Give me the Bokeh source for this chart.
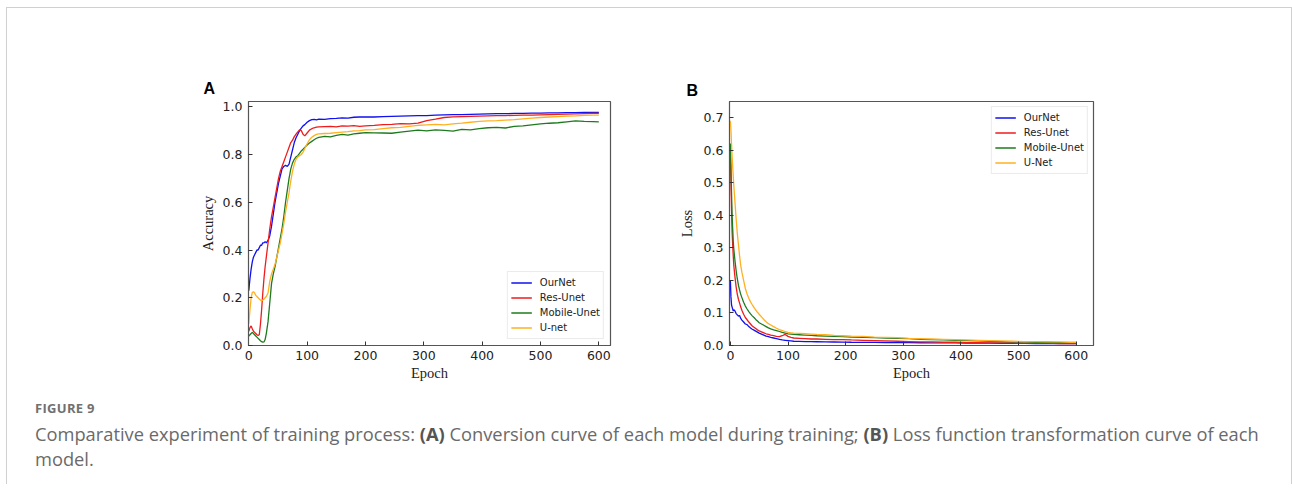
from bokeh.plotting import figure
from bokeh.models import FixedTicker, PrintfTickFormatter, Div, Range1d
from bokeh.layouts import row, column
from bokeh.embed import file_html
from bokeh.resources import INLINE

# ---------------- data : panel A (accuracy) ----------------
epochs_a = [0, 2, 4, 6, 8, 10, 12, 14, 16, 18, 20, 22, 24, 26, 28, 30, 33, 36, 39, 42, 45, 48,
            51, 54, 57, 60, 63, 66, 69, 72, 75, 78, 81, 84, 87, 90, 93, 96, 100, 104, 108, 112,
            116, 120, 130, 140, 150, 160, 170, 180, 190, 200, 215, 230, 245, 260, 275, 290, 305,
            320, 335, 350, 365, 380, 395, 410, 425, 440, 455, 470, 485, 500, 515, 530, 545, 560,
            575, 590, 600]
acc_ournet = [0.23, 0.28, 0.32, 0.35, 0.37, 0.38, 0.39, 0.40, 0.40, 0.41, 0.42, 0.42, 0.43, 0.43,
              0.435, 0.43, 0.44, 0.46, 0.50, 0.55, 0.60, 0.64, 0.68, 0.71, 0.74, 0.75, 0.755, 0.75,
              0.76, 0.79, 0.82, 0.85, 0.87, 0.885, 0.90, 0.91, 0.92, 0.925, 0.935, 0.942, 0.946,
              0.947, 0.945, 0.948, 0.947, 0.950, 0.951, 0.953, 0.952, 0.956, 0.957, 0.958, 0.957,
              0.959, 0.960, 0.961, 0.962, 0.963, 0.963, 0.965, 0.966, 0.967, 0.967, 0.968, 0.969,
              0.970, 0.971, 0.971, 0.972, 0.972, 0.973, 0.973, 0.974, 0.974, 0.975, 0.975, 0.976,
              0.976, 0.976]
acc_resunet = [0.06, 0.075, 0.082, 0.07, 0.06, 0.055, 0.05, 0.045, 0.042, 0.045, 0.09, 0.15,
               0.22, 0.28, 0.33, 0.37, 0.43, 0.49, 0.54, 0.58, 0.62, 0.66, 0.70, 0.73, 0.75, 0.77,
               0.79, 0.81, 0.83, 0.85, 0.86, 0.875, 0.885, 0.895, 0.903, 0.90, 0.885, 0.878, 0.89,
               0.902, 0.908, 0.912, 0.915, 0.916, 0.917, 0.918, 0.916, 0.920, 0.919, 0.921, 0.918,
               0.920, 0.922, 0.925, 0.926, 0.929, 0.928, 0.931, 0.942, 0.948, 0.955, 0.958, 0.959,
               0.960, 0.961, 0.962, 0.963, 0.963, 0.964, 0.965, 0.965, 0.966, 0.967, 0.968, 0.969,
               0.970, 0.971, 0.972, 0.972]
acc_mobile = [0.04, 0.045, 0.05, 0.055, 0.05, 0.045, 0.04, 0.035, 0.03, 0.025, 0.02, 0.016,
              0.014, 0.015, 0.025, 0.05, 0.10, 0.18, 0.26, 0.30, 0.33, 0.37, 0.41, 0.45, 0.49,
              0.54, 0.60, 0.65, 0.70, 0.74, 0.765, 0.78, 0.79, 0.795, 0.805, 0.815, 0.822, 0.83,
              0.84, 0.848, 0.855, 0.862, 0.868, 0.872, 0.876, 0.874, 0.880, 0.884, 0.881, 0.886,
              0.889, 0.892, 0.891, 0.890, 0.889, 0.894, 0.898, 0.902, 0.899, 0.903, 0.901, 0.898,
              0.905, 0.903, 0.908, 0.912, 0.914, 0.911, 0.918, 0.920, 0.924, 0.928, 0.931, 0.933,
              0.937, 0.941, 0.939, 0.938, 0.937]
acc_unet = [0.09, 0.15, 0.20, 0.222, 0.225, 0.22, 0.21, 0.205, 0.20, 0.195, 0.19, 0.188, 0.19,
            0.195, 0.20, 0.205, 0.22, 0.27, 0.30, 0.32, 0.34, 0.37, 0.40, 0.43, 0.47, 0.51, 0.56,
            0.60, 0.64, 0.69, 0.73, 0.76, 0.78, 0.79, 0.795, 0.80, 0.81, 0.825, 0.845, 0.862,
            0.872, 0.879, 0.884, 0.886, 0.888, 0.889, 0.892, 0.894, 0.896, 0.899, 0.900, 0.903,
            0.904, 0.908, 0.912, 0.914, 0.918, 0.922, 0.924, 0.926, 0.924, 0.928, 0.931, 0.935,
            0.939, 0.941, 0.942, 0.944, 0.946, 0.949, 0.952, 0.955, 0.957, 0.959, 0.961, 0.962,
            0.964, 0.965, 0.965]

# ---------------- data : panel B (loss) ----------------
epochs_b = [0, 1, 2, 3, 4, 5, 6, 8, 10, 12, 14, 16, 18, 20, 23, 26, 29, 32, 35, 38, 41, 44, 47,
            50, 54, 58, 62, 66, 70, 75, 80, 85, 90, 95, 100, 105, 110, 120, 130, 140, 150, 165,
            180, 195, 210, 230, 250, 270, 290, 310, 330, 350, 370, 390, 410, 430, 450, 470, 490,
            510, 530, 550, 570, 590, 600]
loss_ournet = [0.20, 0.15, 0.125, 0.118, 0.112, 0.106, 0.11, 0.106, 0.098, 0.094, 0.09, 0.092,
               0.083, 0.078, 0.072, 0.066, 0.064, 0.058, 0.054, 0.050, 0.047, 0.044, 0.041,
               0.038, 0.035, 0.032, 0.029, 0.027, 0.025, 0.023, 0.021, 0.019, 0.017, 0.016,
               0.015, 0.014, 0.013, 0.0125, 0.012, 0.0118, 0.0115, 0.011, 0.0108, 0.0105, 0.010,
               0.0098, 0.0095, 0.0092, 0.009, 0.0088, 0.0085, 0.0082, 0.008, 0.0078, 0.0075,
               0.0072, 0.007, 0.0068, 0.0066, 0.0064, 0.0062, 0.006, 0.0058, 0.0056, 0.0055]
loss_resunet = [0.58, 0.50, 0.42, 0.35, 0.31, 0.275, 0.245, 0.21, 0.18, 0.158, 0.142, 0.13,
                0.118, 0.108, 0.096, 0.086, 0.079, 0.072, 0.066, 0.060, 0.056, 0.052, 0.048,
                0.045, 0.042, 0.039, 0.036, 0.034, 0.032, 0.030, 0.028, 0.027, 0.030, 0.034,
                0.028, 0.025, 0.023, 0.022, 0.021, 0.020, 0.020, 0.019, 0.018, 0.018, 0.017,
                0.016, 0.015, 0.014, 0.013, 0.012, 0.011, 0.011, 0.010, 0.010, 0.009, 0.009,
                0.008, 0.008, 0.008, 0.007, 0.007, 0.007, 0.006, 0.006, 0.006]
loss_mobile = [0.62, 0.55, 0.47, 0.40, 0.36, 0.32, 0.295, 0.26, 0.23, 0.205, 0.185, 0.17, 0.157,
               0.147, 0.133, 0.121, 0.112, 0.104, 0.097, 0.091, 0.086, 0.080, 0.075, 0.070,
               0.066, 0.062, 0.058, 0.054, 0.051, 0.048, 0.046, 0.043, 0.040, 0.038, 0.036,
               0.035, 0.034, 0.033, 0.032, 0.031, 0.030, 0.029, 0.028, 0.027, 0.026, 0.025,
               0.024, 0.023, 0.022, 0.021, 0.019, 0.018, 0.017, 0.016, 0.015, 0.014, 0.013,
               0.012, 0.011, 0.011, 0.010, 0.010, 0.009, 0.009, 0.009]
loss_unet = [0.69, 0.66, 0.62, 0.58, 0.55, 0.52, 0.49, 0.44, 0.39, 0.345, 0.31, 0.275, 0.245,
             0.225, 0.20, 0.175, 0.158, 0.145, 0.134, 0.125, 0.117, 0.109, 0.102, 0.096, 0.088,
             0.080, 0.073, 0.067, 0.063, 0.058, 0.053, 0.049, 0.046, 0.043, 0.040, 0.039, 0.038,
             0.037, 0.036, 0.035, 0.034, 0.033, 0.031, 0.030, 0.029, 0.028, 0.026, 0.025, 0.024,
             0.022, 0.021, 0.020, 0.019, 0.018, 0.017, 0.016, 0.015, 0.014, 0.013, 0.012, 0.012,
             0.011, 0.011, 0.010, 0.010]

x_ticks = [0, 100, 200, 300, 400, 500, 600]
acc_ticks = [0.0, 0.2, 0.4, 0.6, 0.8, 1.0]
loss_ticks = [0.0, 0.1, 0.2, 0.3, 0.4, 0.5, 0.6, 0.7]

names_a = ["OurNet", "Res-Unet", "Mobile-Unet", "U-net"]
names_b = ["OurNet", "Res-Unet", "Mobile-Unet", "U-Net"]
colors = ["#1010f0", "#ee1c1c", "#1e7a1e", "#ffb020"]

TICK_FONT = "DejaVu Sans"
LABEL_FONT = "Liberation Serif"


def style(p, yticks, ylabel, panel, offset, standoff):
    p.xgrid.visible = False
    p.ygrid.visible = False
    p.outline_line_color = "#555555"
    p.outline_line_width = 1.2
    p.xaxis.ticker = FixedTicker(ticks=x_ticks)
    p.yaxis.ticker = FixedTicker(ticks=yticks)
    p.yaxis.formatter = PrintfTickFormatter(format="%.1f")
    for ax in (p.xaxis[0], p.yaxis[0]):
        ax.axis_line_color = "#555555"
        ax.major_tick_line_color = "#333333"
        ax.major_tick_in = 4
        ax.major_tick_out = 0
        ax.minor_tick_line_color = None
        ax.major_label_text_font = TICK_FONT
        ax.major_label_text_font_size = "12.5px"
        ax.major_label_text_color = "#222222"
        ax.axis_label_text_font = LABEL_FONT
        ax.axis_label_text_font_size = "14.5px"
        ax.axis_label_text_font_style = "normal"
        ax.axis_label_text_color = "#222222"
    p.xaxis.axis_label = "Epoch"
    p.yaxis.axis_label = ylabel
    p.xaxis.major_label_standoff = 5
    p.yaxis.major_label_standoff = 6
    p.xaxis.axis_label_standoff = 2
    p.yaxis.axis_label_standoff = 4
    p.title.text = panel
    p.title.align = "left"
    p.title.offset = offset
    p.title.standoff = standoff
    p.title.text_font = "Liberation Sans"
    p.title.text_font_style = "bold"
    p.title.text_font_size = "16px"
    p.title.text_color = "#000000"


def legend_style(p, loc, margin):
    lg = p.legend[0]
    lg.location = loc
    lg.margin = margin
    lg.padding = 3
    lg.spacing = 0
    lg.label_height = 15
    lg.glyph_height = 15
    lg.glyph_width = 21
    lg.label_standoff = 8
    lg.label_text_font = TICK_FONT
    lg.label_text_font_size = "10px"
    lg.label_text_color = "#222222"
    lg.border_line_color = "#d8d8d8"
    lg.border_line_width = 1
    lg.background_fill_alpha = 0.9


# ---------------- panel A ----------------
pA = figure(width=633, height=377, output_backend="svg", toolbar_location=None,
            x_range=Range1d(-0.5, 620), y_range=Range1d(0, 1.022),
            min_border_left=241, min_border_right=30, min_border_top=93, min_border_bottom=40)
style(pA, acc_ticks, "Accuracy", "A", -45, 9)
for ys, nm, c in zip([acc_ournet, acc_resunet, acc_mobile, acc_unet], names_a, colors):
    pA.line(epochs_a, ys, line_color=c, line_width=1.3, legend_label=nm)
legend_style(pA, "bottom_right", 6)

# ---------------- panel B ----------------
pB = figure(width=651, height=377, output_backend="svg", toolbar_location=None,
            x_range=Range1d(-1.5, 630), y_range=Range1d(0, 0.749),
            min_border_left=89, min_border_right=198, min_border_top=89, min_border_bottom=40)
style(pB, loss_ticks, "Loss", "B", -43, 5)
pB.yaxis.axis_label_standoff = 6
for ys, nm, c in zip([loss_ournet, loss_resunet, loss_mobile, loss_unet], names_b, colors):
    pB.line(epochs_b, ys, line_color=c, line_width=1.3, legend_label=nm)
legend_style(pB, "top_right", 5)

caption = Div(
    text=("<div style=\"font-family:'Open Sans',sans-serif;color:#6a6a6a;padding:14px 0 0 28px;\">"
          "<div style='font-size:13px;font-weight:bold;line-height:18px;letter-spacing:0.3px;color:#707070;'>FIGURE 9</div>"
          "<div style='font-size:18.3px;line-height:25px;margin-top:4px;white-space:nowrap;'>Comparative experiment of training process: "
          "<b style='color:#555555;'>(A)</b> Conversion curve of each model during training; <b style='color:#555555;'>(B)</b> Loss function "
          "transformation curve of each<br>model.</div></div>"),
    width=1284, height=99, margin=0)

root = column(row(pA, pB), caption, margin=(7, 0, 0, 6),
              styles={"border-top": "1px solid #d0d0d0", "border-left": "1px solid #d0d0d0",
                      "border-right": "1px solid #d0d0d0"})

open("out.html", "w").write(file_html(root, INLINE))
